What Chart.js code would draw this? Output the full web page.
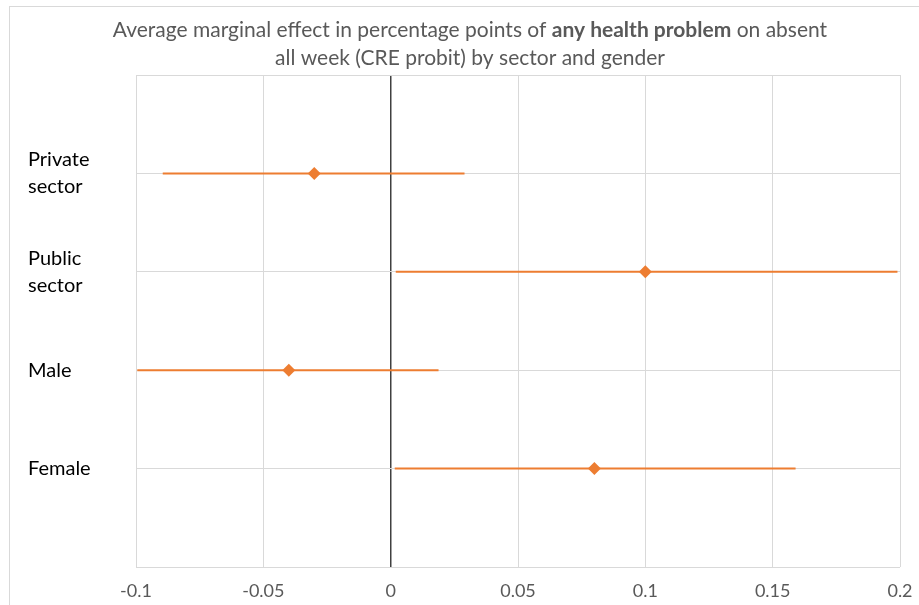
<!DOCTYPE html>
<html>
<head>
<meta charset="utf-8">
<script src="https://cdn.jsdelivr.net/npm/chart.js@4.4.1/dist/chart.umd.min.js"></script>
<style>
  html, body { margin: 0; padding: 0; background: #ffffff; }
  #wrap { width: 919px; height: 605px; position: relative; }
</style>
</head>
<body>
<div id="wrap"><canvas id="c" width="919" height="605"></canvas></div>
<script>
// Average marginal effects with confidence intervals, by group
const categories = ['Private sector', 'Public sector', 'Male', 'Female'];
const rowPositions = [4, 3, 2, 1];
const estimates = [-0.03, 0.10, -0.04, 0.08];
const lowerBounds = [-0.0895, 0.002, -0.0995, 0.0016];
const upperBounds = [0.029, 0.199, 0.0188, 0.159];
const xTicks = [-0.1, -0.05, 0, 0.05, 0.1, 0.15, 0.2];

const titleLine1 = [
  { text: 'Average marginal effect in percentage points of ', bold: false },
  { text: 'any health problem', bold: true },
  { text: ' on absent', bold: false }
];
const titleLine2 = [
  { text: 'all week (CRE probit) by sector and gender', bold: false }
];

const ORANGE = '#ED7D31';
const FONT = 'Lato, "Open Sans", sans-serif';

const labelFor = {};
categories.forEach((c, i) => { labelFor[rowPositions[i]] = c.split(' '); });

// one dataset for the diamonds, one line dataset per interval
const datasets = [{
  label: 'Estimate',
  data: estimates.map((v, i) => ({ x: v, y: rowPositions[i] })),
  pointStyle: 'rectRot',
  pointRadius: 6.5,
  pointHoverRadius: 6.5,
  backgroundColor: ORANGE,
  borderColor: ORANGE,
  borderWidth: 0,
  showLine: false
}];
categories.forEach((c, i) => {
  datasets.push({
    label: c + ' CI',
    data: [{ x: lowerBounds[i], y: rowPositions[i] }, { x: upperBounds[i], y: rowPositions[i] }],
    showLine: true,
    borderColor: ORANGE,
    borderWidth: 2,
    pointRadius: 0,
    pointHoverRadius: 0,
    fill: false
  });
});

// chart frame and two-line title with a bold phrase
const framePlugin = {
  id: 'frame',
  beforeDraw(chart) {
    const ctx = chart.ctx;
    ctx.save();
    ctx.fillStyle = '#ffffff';
    ctx.fillRect(0, 0, chart.width, chart.height);
    ctx.strokeStyle = '#d9d9d9';
    ctx.lineWidth = 1;
    ctx.strokeRect(9.5, 6.5, chart.width + 10, chart.height + 10);
    ctx.restore();
  },
  afterDraw(chart) {
    const ctx = chart.ctx;
    const size = 21;
    const fontOf = b => (b ? 'bold ' : '') + size + 'px ' + FONT;
    const widthOf = parts => parts.reduce((s, p) => { ctx.font = fontOf(p.bold); return s + ctx.measureText(p.text).width; }, 0);
    ctx.save();
    const w1 = widthOf(titleLine1);
    const sx = Math.min(1, 722 / w1);
    const cx = 470;
    const drawLine = (parts, y) => {
      const w = widthOf(parts) * sx;
      let x = cx - w / 2;
      parts.forEach(p => {
        ctx.font = fontOf(p.bold);
        ctx.save();
        ctx.translate(x, y);
        ctx.scale(sx, 1);
        ctx.fillStyle = '#595959';
        ctx.textBaseline = 'middle';
        ctx.textAlign = 'left';
        ctx.fillText(p.text, 0, 0);
        ctx.restore();
        x += ctx.measureText(p.text).width * sx;
      });
    };
    drawLine(titleLine1, 30);
    drawLine(titleLine2, 58);
    ctx.restore();
  }
};

new Chart(document.getElementById('c'), {
  type: 'scatter',
  data: { datasets },
  plugins: [framePlugin],
  options: {
    responsive: false,
    animation: false,
    events: [],
    layout: { padding: { left: 28, right: 19, top: 75, bottom: 0 } },
    plugins: { legend: { display: false }, tooltip: { enabled: false }, title: { display: false } },
    scales: {
      x: {
        type: 'linear',
        min: -0.1,
        max: 0.2,
        afterBuildTicks(axis) { axis.ticks = xTicks.map(v => ({ value: v })); },
        afterFit(axis) { axis.height = 38; axis.paddingLeft = 0; axis.paddingRight = 0; },
        border: { display: false },
        grid: {
          drawTicks: false,
          lineWidth: ctx => (ctx.tick && ctx.tick.value === 0 ? 1.5 : 1),
          color: ctx => (ctx.tick && ctx.tick.value === 0 ? '#404040' : '#d9d9d9')
        },
        ticks: {
          padding: 13,
          maxRotation: 0,
          color: '#595959',
          font: { family: FONT, size: 18 },
          callback: v => String(v)
        }
      },
      y: {
        type: 'linear',
        min: 0,
        max: 5,
        afterBuildTicks(axis) { axis.ticks = [0, 1, 2, 3, 4, 5].map(v => ({ value: v })); },
        afterFit(axis) { axis.width = 108; axis.paddingTop = 0; axis.paddingBottom = 0; },
        border: { display: false },
        grid: { drawTicks: false, color: '#d9d9d9', lineWidth: 1 },
        ticks: {
          crossAlign: 'far',
          padding: 0,
          color: '#000000',
          font: { family: FONT, size: 20, lineHeight: 1.35 },
          callback: v => labelFor[v] || ''
        }
      }
    }
  }
});
</script>
</body>
</html>
